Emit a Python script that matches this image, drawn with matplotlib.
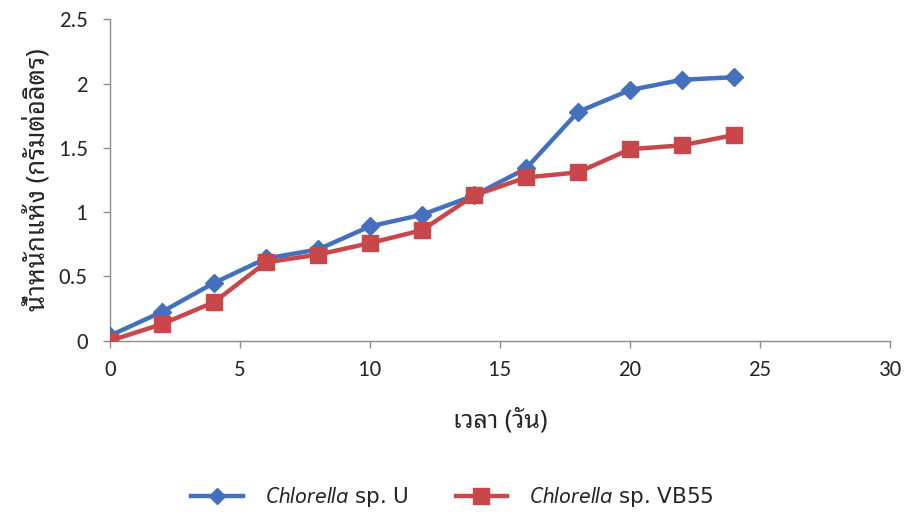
import matplotlib
matplotlib.use("Agg")
import matplotlib.pyplot as plt
from matplotlib import font_manager as fm

days = [0, 2, 4, 6, 8, 10, 12, 14, 16, 18, 20, 22, 24]
strain_u = [0.04, 0.225, 0.45, 0.64, 0.71, 0.89, 0.98, 1.13, 1.34, 1.78, 1.95, 2.03, 2.05]
strain_vb55 = [0.0, 0.13, 0.30, 0.61, 0.67, 0.76, 0.86, 1.13, 1.27, 1.31, 1.49, 1.52, 1.60]
series_names = ["$\\it{Chlorella}$ sp. U", "$\\it{Chlorella}$ sp. VB55"]
x_ticks = [0, 5, 10, 15, 20, 25, 30]
y_ticks = [0, 0.5, 1, 1.5, 2, 2.5]
y_tick_labels = ["0", "0.5", "1", "1.5", "2", "2.5"]
x_label = "เวลา (วัน)"
y_label = "น้ำหนักแห้ง (กรัมต่อลิตร)"

available = {f.name for f in fm.fontManager.ttflist}
num_font = [f for f in ["Carlito", "Open Sans", "DejaVu Sans"] if f in available]
thai_font = [f for f in ["Noto Sans Thai Looped", "Noto Sans Thai", "DejaVu Sans"] if f in available]
leg_font = "Niramit" if "Niramit" in available else thai_font[0]

plt.rcParams["mathtext.fontset"] = "custom"
plt.rcParams["mathtext.rm"] = leg_font
plt.rcParams["mathtext.it"] = leg_font + ":italic"

blue = "#4470BE"
red = "#C9474A"
grey = "#8C8C8C"
txt = "#262626"

fig = plt.figure(figsize=(9.05, 5.14), dpi=100)
ax = fig.add_axes([0.1215, 0.337, 0.862, 0.6254])

ax.plot(days, strain_u, color=blue, lw=3.2, marker="D", ms=9, mec=blue, mfc=blue,
        label=series_names[0], zorder=3)
ax.plot(days, strain_vb55, color=red, lw=3.2, marker="s", ms=12, mec=red, mfc=red,
        label=series_names[1], zorder=4)

ax.set_xlim(0, 30)
ax.set_ylim(0, 2.5)
ax.set_xticks(x_ticks)
ax.set_yticks(y_ticks)
ax.set_yticklabels(y_tick_labels)
for s in ["top", "right"]:
    ax.spines[s].set_visible(False)
for s in ["left", "bottom"]:
    ax.spines[s].set_color(grey)
    ax.spines[s].set_linewidth(1.0)
ax.tick_params(axis="both", color=grey, length=5, width=1.0, direction="out",
               labelsize=16.5, labelcolor=txt)
ax.tick_params(axis="x", pad=9)
ax.tick_params(axis="y", pad=11)
for lab in ax.get_xticklabels() + ax.get_yticklabels():
    lab.set_family(num_font)

ax.set_xlabel(x_label, family=thai_font, fontsize=18, color=txt, labelpad=20,
              fontweight="light")
ax.set_ylabel(y_label, family=thai_font, fontsize=18.5, color=txt, labelpad=6,
              fontweight="light")

leg = fig.legend(loc="center", bbox_to_anchor=(0.5, 0.033), ncol=2, frameon=False,
                 fontsize=15.5, handlelength=2.4, columnspacing=2.2, handletextpad=1.0,
                 markerscale=0.95)
for t in leg.get_texts():
    t.set_color(txt)

fig.savefig("out.png", dpi=100)
